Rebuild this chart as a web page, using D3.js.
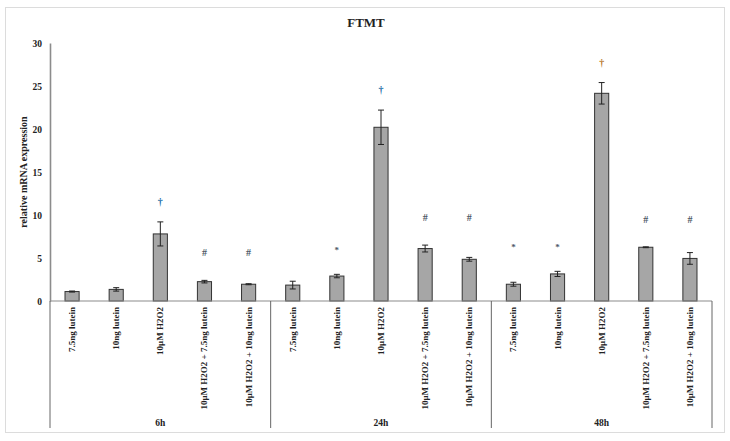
<!DOCTYPE html>
<html><head><meta charset="utf-8">
<script src="https://cdn.jsdelivr.net/npm/d3@7"></script>
<style>body{margin:0;background:#fff}svg{display:block}text{font-family:"Liberation Serif","DejaVu Serif",serif;font-weight:bold;fill:#222}</style>
</head><body><svg id="c" width="730" height="441"></svg>
<script>
const title = "FTMT";
const yLabel = "relative mRNA expression";
const groups = ["6h", "24h", "48h"];
const treatments = ["7.5ng lutein", "10ng lutein", "10µM H2O2", "10µM H2O2 + 7.5ng lutein", "10µM H2O2 + 10ng lutein"];
const means6h  = [1.1, 1.35, 7.8, 2.25, 1.95];
const means24h = [1.85, 2.9, 20.2, 6.1, 4.85];
const means48h = [1.95, 3.15, 24.15, 6.25, 4.95];
const err6h  = [0.06, 0.2, 1.4, 0.15, 0.06];
const err24h = [0.45, 0.2, 2.0, 0.4, 0.22];
const err48h = [0.23, 0.3, 1.25, 0.05, 0.68];
const marks6h  = ["", "", "†", "#", "#"];
const marks24h = ["", "*", "†", "#", "#"];
const marks48h = ["*", "*", "†", "#", "#"];
const yTicks = [0, 5, 10, 15, 20, 25, 30];

const means = [means6h, means24h, means48h];
const errs = [err6h, err24h, err48h];
const marks = [marks6h, marks24h, marks48h];
const data = [];
groups.forEach((g, gi) => treatments.forEach((t, ti) => data.push({
  key: g + "|" + t, group: g, gi, t, v: means[gi][ti], e: errs[gi][ti], m: marks[gi][ti]
})));

const svg = d3.select("#c");
svg.append("rect").attr("x", 5.5).attr("y", 7.5).attr("width", 719).attr("height", 425)
  .attr("fill", "#fff").attr("stroke", "#dcdcdc");

const x0 = 50, x1 = 712, yTop = 43, yBase = 301;
const x = d3.scaleBand().domain(data.map(d => d.key)).range([x0, x1]).paddingInner(0.68).paddingOuter(0.34);
const y = d3.scaleLinear().domain([0, 30]).range([yBase, yTop]);
const gx = d3.scaleBand().domain(groups).range([x0, x1]);

svg.append("text").attr("x", 366).attr("y", 27).attr("text-anchor", "middle")
  .attr("font-size", 13).text(title);

// y axis
const ya = svg.append("g").attr("transform", `translate(${x0},0)`)
  .call(d3.axisLeft(y).tickValues(yTicks).tickSize(0).tickPadding(8));
ya.select(".domain").attr("stroke", "#8c8c8c").attr("stroke-width", 1.6);
ya.selectAll("text").attr("font-size", 9.5).attr("font-family", "Liberation Serif").attr("font-weight", "bold").attr("fill", "#222");

svg.append("text").attr("transform", `translate(27,172) rotate(-90)`).attr("text-anchor", "middle")
  .attr("font-size", 10).text(yLabel);

// bars
svg.selectAll("rect.bar").data(data).join("rect").attr("class", "bar")
  .attr("x", d => x(d.key)).attr("width", x.bandwidth())
  .attr("y", d => y(d.v)).attr("height", d => y(0) - y(d.v))
  .attr("fill", "#a6a6a6").attr("stroke", "#333").attr("stroke-width", 1);

// error bars
const eb = svg.selectAll("g.err").data(data).join("g").attr("class", "err")
  .attr("transform", d => `translate(${x(d.key) + x.bandwidth() / 2},0)`);
eb.append("line").attr("y1", d => y(d.v + d.e)).attr("y2", d => y(d.v - d.e)).attr("stroke", "#222");
eb.append("line").attr("x1", -3).attr("x2", 3).attr("y1", d => y(d.v + d.e)).attr("y2", d => y(d.v + d.e)).attr("stroke", "#222");
eb.append("line").attr("x1", -3).attr("x2", 3).attr("y1", d => y(d.v - d.e)).attr("y2", d => y(d.v - d.e)).attr("stroke", "#222");

// significance marks
const markTop = {};
data.forEach(d => { if (d.m) { const k = d.group + d.m; markTop[k] = Math.max(markTop[k] || 0, d.v + d.e); } });
svg.selectAll("text.mark").data(data.filter(d => d.m)).join("text").attr("class", "mark")
  .attr("x", d => x(d.key) + x.bandwidth() / 2)
  .attr("y", d => y(markTop[d.group + d.m]) - (d.m === "#" ? 24 : d.m === "†" ? 17 : 21))
  .attr("text-anchor", "middle").attr("font-size", d => d.m === "*" ? 9 : 10)
  .style("fill", d => d.m === "†" ? (d.gi === 2 ? "#b87a30" : "#1f6fa8") : "#4d5866")
  .text(d => d.m);

// baseline
svg.append("line").attr("x1", x0).attr("x2", x1).attr("y1", yBase).attr("y2", yBase).attr("stroke", "#8c8c8c").attr("stroke-width", 1.2);

// group separators
const seps = groups.map(g => gx(g)).concat([x1]);
svg.selectAll("line.sep").data(seps).join("line").attr("class", "sep")
  .attr("x1", d => d).attr("x2", d => d).attr("y1", yBase).attr("y2", 428)
  .attr("stroke", "#666").attr("stroke-width", 1);

// category labels
svg.selectAll("text.cat").data(data).join("text").attr("class", "cat")
  .attr("transform", d => `translate(${x(d.key) + x.bandwidth() / 2 + 3},307) rotate(-90)`)
  .attr("text-anchor", "end").attr("font-size", 9).text(d => d.t);

// group labels
svg.selectAll("text.grp").data(groups).join("text").attr("class", "grp")
  .attr("x", d => gx(d) + gx.bandwidth() / 2).attr("y", 426)
  .attr("text-anchor", "middle").attr("font-size", 9.5).text(d => d);
</script></body></html>
